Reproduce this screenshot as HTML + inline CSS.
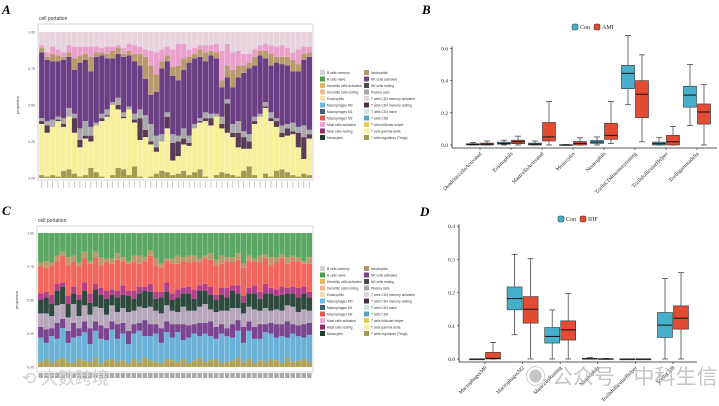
<!DOCTYPE html>
<html><head><meta charset="utf-8"><style>
html,body{margin:0;padding:0;background:#fff;}
svg{display:block;font-family:"Liberation Sans","Noto Sans CJK SC",sans-serif;}
</style></head><body>
<svg id="fig" width="719" height="406" viewBox="0 0 719 406" xmlns="http://www.w3.org/2000/svg">
<text x="2" y="14" font-family="Liberation Serif" font-style="italic" font-weight="bold" font-size="13">A</text>
<text x="422" y="14" font-family="Liberation Serif" font-style="italic" font-weight="bold" font-size="13">B</text>
<text x="2" y="215" font-family="Liberation Serif" font-style="italic" font-weight="bold" font-size="13">C</text>
<text x="420" y="216" font-family="Liberation Serif" font-style="italic" font-weight="bold" font-size="13">D</text>
<g id="gA"></g>
<g id="gC"></g>
<g id="gB"></g>
<g id="gD"></g>
<text x="22" y="384" font-size="17" fill="#cfcfcf">⟲ 大数跨境</text>
<text x="525" y="384" font-size="21" fill="#b8b8b8" opacity="0.8">◉ 公众号 · 中科生信</text>
</svg>
<script>
// ---- Panel A data (bottom to top) ----
const aTreg=[0.02,0.01,0.02,0.01,0.05,0.06,0.03,0.01,0.02,0.07,0.04,0.01,0,0.02,0.07,0.06,0.02,0.08,0.01,0,0.01,0.03,0.05,0.04,0.02,0.03,0.05,0.02,0.04,0.06,0.01,0,0.02,0.04,0.03,0.02,0.01,0.05,0.08,0.02,0,0.03,0.01,0.05,0.06,0.04,0.02,0.01,0.03,0.02];
const aTgd=[0.35,0.3,0.33,0.38,0.3,0.36,0.28,0.2,0.25,0.18,0.32,0.38,0.42,0.48,0.4,0.35,0.45,0.3,0.25,0.28,0.22,0.15,0.2,0.3,0.1,0.12,0.18,0.2,0.3,0.32,0.38,0.36,0.4,0.3,0.28,0.26,0.2,0.15,0.12,0.35,0.42,0.45,0.38,0.3,0.22,0.25,0.28,0.2,0.1,0.25];
const aDark=[0.02,0.05,0,0.01,0.02,0,0.1,0.05,0.02,0.04,0,0.02,0.01,0,0.03,0.01,0,0.02,0.15,0.05,0.02,0.03,0,0.08,0.12,0.1,0.04,0.02,0,0.01,0.02,0.05,0,0.03,0.2,0.03,0.1,0.08,0.05,0.02,0,0.01,0.02,0.04,0.03,0.05,0.02,0.1,0.15,0.03];
const aMisc=[0.02,0.03,0.05,0.02,0.04,0.06,0.03,0.08,0.1,0.06,0.02,0.03,0.04,0.02,0.05,0.03,0.02,0.04,0.06,0.1,0.12,0.08,0.05,0.03,0.06,0.04,0.07,0.05,0.03,0.02,0.04,0.03,0.02,0.05,0.03,0.06,0.08,0.04,0.05,0.03,0.02,0.03,0.04,0.02,0.05,0.03,0.06,0.04,0.08,0.03];
const aPurple=[0.45,0.42,0.4,0.38,0.4,0.35,0.3,0.45,0.42,0.38,0.45,0.4,0.35,0.3,0.3,0.38,0.35,0.36,0.3,0.25,0.2,0.3,0.45,0.35,0.4,0.38,0.4,0.5,0.45,0.42,0.35,0.4,0.38,0.2,0.15,0.25,0.3,0.4,0.45,0.35,0.4,0.3,0.32,0.38,0.42,0.4,0.35,0.38,0.45,0.5];
const aTan=[0.03,0.02,0.05,0.04,0.02,0.03,0.08,0.05,0.04,0.1,0.03,0.02,0.03,0.05,0.04,0.02,0.03,0.05,0.08,0.15,0.2,0.12,0.05,0.04,0.06,0.1,0.08,0.04,0.03,0.05,0.06,0.03,0.04,0.05,0.08,0.12,0.08,0.05,0.04,0.06,0.03,0.05,0.08,0.04,0.05,0.06,0.08,0.05,0.04,0.03];
const aPink=[0.02,0.03,0.05,0.04,0.03,0.05,0.08,0.06,0.05,0.07,0.04,0.03,0.05,0.03,0.02,0.04,0.05,0.06,0.05,0.05,0.1,0.15,0.08,0.06,0.12,0.15,0.1,0.05,0.04,0.03,0.05,0.04,0.06,0.2,0.15,0.12,0.1,0.08,0.06,0.05,0.04,0.05,0.06,0.07,0.08,0.06,0.05,0.1,0.05,0.04];
const aSeries=[aTreg,aTgd,aDark,aMisc,aPurple,aTan,aPink];
// ---- Panel C data (bottom to top) ----
const cOlive=[0.04,0.06,0.03,0.05,0.07,0.04,0.03,0.06,0.05,0.04,0.07,0.03,0.05,0.06,0.04,0.05,0.03,0.06,0.04,0.07,0.05,0.04,0.03,0.06,0.05,0.04,0.06,0.03,0.05,0.07,0.04,0.05,0.06,0.03,0.04,0.05,0.07,0.04,0.06,0.03,0.05,0.04,0.06,0.05,0.03,0.07,0.04,0.05,0.06,0.04];
const cBlue=[0.18,0.12,0.2,0.16,0.22,0.14,0.19,0.17,0.21,0.13,0.2,0.18,0.15,0.22,0.17,0.2,0.14,0.19,0.23,0.16,0.18,0.21,0.15,0.2,0.17,0.22,0.14,0.19,0.2,0.16,0.21,0.18,0.15,0.22,0.19,0.17,0.2,0.14,0.21,0.18,0.16,0.22,0.19,0.17,0.2,0.15,0.21,0.18,0.16,0.2];
const cPurple=[0.08,0.1,0.06,0.12,0.07,0.09,0.11,0.06,0.08,0.12,0.07,0.1,0.09,0.06,0.11,0.08,0.1,0.07,0.06,0.12,0.09,0.07,0.11,0.08,0.1,0.06,0.12,0.09,0.07,0.1,0.08,0.11,0.09,0.07,0.06,0.1,0.08,0.12,0.07,0.09,0.11,0.06,0.08,0.1,0.09,0.12,0.07,0.08,0.1,0.09];
const cLilac=[0.1,0.12,0.09,0.13,0.11,0.1,0.14,0.09,0.12,0.1,0.11,0.13,0.1,0.12,0.09,0.11,0.14,0.1,0.12,0.09,0.13,0.1,0.11,0.12,0.1,0.09,0.13,0.11,0.1,0.12,0.14,0.09,0.11,0.1,0.13,0.12,0.09,0.1,0.11,0.13,0.1,0.12,0.09,0.11,0.1,0.12,0.13,0.1,0.11,0.09];
const cDkGreen=[0.1,0.12,0.09,0.11,0.13,0.1,0.08,0.12,0.11,0.09,0.13,0.1,0.12,0.08,0.11,0.1,0.12,0.09,0.1,0.13,0.11,0.09,0.12,0.1,0.08,0.11,0.1,0.13,0.09,0.12,0.1,0.11,0.09,0.12,0.1,0.13,0.11,0.08,0.1,0.12,0.09,0.11,0.13,0.1,0.12,0.09,0.1,0.11,0.12,0.1];
const cMagenta=[0.05,0.04,0.07,0.05,0.03,0.06,0.05,0.04,0.06,0.07,0.04,0.05,0.06,0.04,0.05,0.07,0.04,0.06,0.05,0.03,0.06,0.05,0.04,0.07,0.05,0.06,0.04,0.05,0.07,0.04,0.05,0.06,0.04,0.05,0.07,0.04,0.06,0.05,0.04,0.06,0.05,0.07,0.04,0.05,0.06,0.04,0.05,0.07,0.05,0.04];
const cCoral=[0.2,0.18,0.22,0.17,0.2,0.23,0.19,0.21,0.18,0.22,0.2,0.17,0.21,0.19,0.23,0.18,0.2,0.22,0.17,0.19,0.21,0.2,0.18,0.16,0.22,0.19,0.2,0.18,0.21,0.17,0.19,0.2,0.22,0.18,0.2,0.17,0.19,0.21,0.2,0.18,0.22,0.19,0.17,0.2,0.21,0.18,0.19,0.2,0.17,0.21];
const cTan=[0.03,0.05,0.02,0.04,0.03,0.06,0.04,0.03,0.05,0.02,0.04,0.06,0.03,0.04,0.05,0.03,0.02,0.04,0.06,0.03,0.04,0.05,0.03,0.02,0.04,0.06,0.03,0.05,0.04,0.03,0.02,0.05,0.04,0.06,0.03,0.04,0.05,0.03,0.04,0.02,0.05,0.03,0.06,0.04,0.03,0.05,0.04,0.03,0.02,0.05];
const cSeries=[cOlive,cBlue,cPurple,cLilac,cDkGreen,cMagenta,cCoral,cTan];
const legendLabels=["B cells memory","B cells naive","Dendritic cells activated","Dendritic cells resting","Eosinophils","Macrophages M0","Macrophages M1","Macrophages M2","Mast cells activated","Mast cells resting","Monocytes","Neutrophils","NK cells activated","NK cells resting","Plasma cells","T cells CD4 memory activated","T cells CD4 memory resting","T cells CD4 naive","T cells CD8","T cells follicular helper","T cells gamma delta","T cells regulatory (Tregs)"];
const legendColors=["#d4d4d4","#4d9e4d","#e8b36a","#f0b896","#f3dfb0","#6cb8e0","#3d6170","#e05a55","#f0a6cf","#8e2f6a","#1f3a30","#b3946c","#7b3f8e","#4a4a4a","#a9a9a9","#e4d4de","#4b2f48","#cfe5e0","#5aa3c0","#e6cc55","#f7ef9a","#a39a52"];
// ---- Panel B data ----
const bCats=["DendriticcellsActivated","Eosinophils","MastcellsActivated","Monocytes","Neutrophils","TcellsCD4memoryresting","TcellsfollicularHelper","Tcellsgammadelta"];
const bConQ1=[0,0.005,0,0,0.01,0.35,0,0.235];
const bConMed=[0.003,0.01,0.005,0,0.018,0.445,0.008,0.31];
const bConQ3=[0.008,0.018,0.012,0.002,0.028,0.495,0.018,0.365];
const bConLo=[0,0,0,0,0,0.25,0,0.12];
const bConHi=[0.015,0.03,0.025,0.003,0.05,0.68,0.045,0.5];
const bAmiQ1=[0,0.008,0.025,0,0.035,0.17,0,0.13];
const bAmiMed=[0.005,0.02,0.05,0.01,0.06,0.315,0.02,0.205];
const bAmiQ3=[0.012,0.03,0.14,0.022,0.135,0.4,0.06,0.255];
const bAmiLo=[0,0,0,0,0.01,0.02,0,0];
const bAmiHi=[0.025,0.055,0.27,0.045,0.27,0.56,0.115,0.375];
const bTicks=[0,0.2,0.4,0.6];
// ---- Panel D data ----
const dCats=["MacrophagesM0","MacrophagesM2","MastcellsResting","Neutrophils","TcellsfollicularHelper","TcellsCD8"];
const dConQ1=[0,0.148,0.048,0,0,0.065];
const dConMed=[0,0.182,0.068,0,0,0.102];
const dConQ3=[0,0.217,0.095,0.002,0,0.14];
const dConLo=[0,0.073,0,0,0,0];
const dConHi=[0,0.315,0.148,0.004,0,0.242];
const dIhfQ1=[0,0.108,0.057,0,0,0.09];
const dIhfMed=[0.002,0.15,0.088,0,0,0.123];
const dIhfQ3=[0.02,0.188,0.115,0.001,0,0.16];
const dIhfLo=[0,0,0,0,0,0];
const dIhfHi=[0.05,0.302,0.197,0.002,0,0.26];
const dTicks=[0,0.1,0.2,0.3,0.4];

const NS="http://www.w3.org/2000/svg";
function mk(parent,tag,attrs,txt){const e=document.createElementNS(NS,tag);for(const k in attrs)e.setAttribute(k,attrs[k]);if(txt!=null)e.textContent=txt;parent.appendChild(e);return e;}

function stacked(g,series,colors,topColor,X0,X1,Ytop,Ybot,frameTop,frameBot,stripType,legY){
  mk(g,'rect',{x:X0-1,y:frameTop,width:X1-X0+2,height:frameBot-frameTop,fill:'#fff',stroke:'#bbb','stroke-width':0.6});
  const t=mk(g,'text',{x:X0,y:frameTop-4,'font-size':5,fill:'#333'},'cell portation');
  
  
  const yv=v=>Ybot-(Ybot-Ytop)*v;
  [0,0.25,0.5,0.75,1].forEach(v=>{
    const l=mk(g,'text',{x:X0-4,y:yv(v)+1.3,'font-size':3.5,'text-anchor':'end',fill:'#555'},v.toFixed(2));
    
    
  });
  const yt=mk(g,'text',{x:0,y:0,'font-size':4,fill:'#444','text-anchor':'middle',transform:`translate(${X0-20},${(Ytop+Ybot)/2}) rotate(-90)`},'proportion');
  
  
  const n=series[0].length,bw=(X1-X0)/n;
  for(let i=0;i<n;i++){
    let acc=0;
    series.forEach((s,k)=>{
      const v=Math.max(0,Math.min(s[i],1-acc));
      const r=mk(g,'rect',{x:X0+i*bw,y:yv(acc+v),width:bw,height:yv(acc)-yv(acc+v),fill:colors[k]});
      
      
      acc+=v;
    });
    const r=mk(g,'rect',{x:X0+i*bw,y:yv(1),width:bw,height:yv(acc)-yv(1),fill:topColor});
    
    
    mk(g,'line',{x1:X0+i*bw,x2:X0+i*bw,y1:yv(1),y2:Ybot,stroke:'#fff','stroke-width':0.35,opacity:0.7});
    if(stripType==='ticks') mk(g,'line',{x1:X0+(i+0.5)*bw,x2:X0+(i+0.5)*bw,y1:frameBot+1,y2:frameBot+8,stroke:'#999','stroke-width':0.5});
    else mk(g,'rect',{x:X0+i*bw+0.5,y:frameBot+1,width:bw-1,height:5,fill:'#aaa'});
  }
  legendLabels.forEach((lab,i)=>{
    const col=i<11?0:1,row=i%11;
    const x=320+col*44,y=legY+row*6.5;
    const s=mk(g,'rect',{x:x,y:y,width:5,height:5,fill:legendColors[i]});
    
    
    const tx=mk(g,'text',{x:x+7,y:y+4,'font-size':3.3,fill:'#333'},lab);
    
    
  });
}
stacked(document.getElementById('gA'),aSeries,["#a39a52","#f7ef9a","#5a3a55","#a9a9a9","#6b3d82","#b89a6c","#e9a0cb"],"#e6d3dc",39,312,32,178,24,180,'ticks',70);
stacked(document.getElementById('gC'),cSeries,["#b0a35a","#6ab3d6","#7b4590","#b5a6ba","#2e4a3e","#b33f8a","#f2665e","#b89a6c"],"#5aa863",38,312,233,367,226,372,'boxes',266);

function boxplot(g,cats,con,ami,names,X0,Xend,Y0,perUnit,ticks,xStart,step,bw,legX,legY){
  const y=v=>Y0-v*perUnit;
  mk(g,'line',{x1:X0,x2:X0,y1:y(ticks[ticks.length-1])-2,y2:Y0+3,stroke:'#222','stroke-width':0.8});
  mk(g,'line',{x1:X0,x2:Xend,y1:Y0+3,y2:Y0+3,stroke:'#222','stroke-width':0.8});
  ticks.forEach(v=>{
    mk(g,'line',{x1:X0-2,x2:X0,y1:y(v),y2:y(v),stroke:'#222','stroke-width':0.6});
    const l=mk(g,'text',{x:X0-4,y:y(v)+2,'font-size':5.5,'text-anchor':'end',fill:'#222','font-family':'Liberation Serif'},v.toFixed(1));
    
    
  });
  const cols=["#46b0cc","#e24c33"];
  cats.forEach((c,i)=>{
    const cx=xStart+i*step;
    mk(g,'line',{x1:cx,x2:cx,y1:Y0+3,y2:Y0+5,stroke:'#222','stroke-width':0.6});
    const l=mk(g,'text',{x:0,y:0,'font-size':5.5,'text-anchor':'end',fill:'#222','font-family':'Liberation Serif',transform:`translate(${cx+2},${Y0+9}) rotate(-45)`},c);
    
    
    [con,ami].forEach((d,k)=>{
      const bx=cx+(k===0?-bw-0.5:0.5);
      const m=bx+bw/2;
      const w=mk(g,'line',{x1:m,x2:m,y1:y(d[4][i]),y2:y(d[3][i]),stroke:'#333','stroke-width':0.7});
      
      
      mk(g,'line',{x1:m-3,x2:m+3,y1:y(d[4][i]),y2:y(d[4][i]),stroke:'#333','stroke-width':0.7});
      mk(g,'line',{x1:m-3,x2:m+3,y1:y(d[3][i]),y2:y(d[3][i]),stroke:'#333','stroke-width':0.7});
      const b=mk(g,'rect',{x:bx,y:y(d[2][i]),width:bw,height:Math.max(0.8,y(d[0][i])-y(d[2][i])),fill:cols[k],stroke:'#333','stroke-width':0.6});
      
      
      mk(g,'line',{x1:bx,x2:bx+bw,y1:y(d[1][i]),y2:y(d[1][i]),stroke:'#111','stroke-width':1});
    });
  });
  names.forEach((nm,k)=>{
    const x=legX+k*22;
    const s=mk(g,'rect',{x:x,y:legY-3,width:6,height:6,rx:1.5,fill:cols[k],stroke:'#333','stroke-width':0.5});
    
    
    const t=mk(g,'text',{x:x+8,y:legY+2,'font-size':6,fill:'#222','font-family':'Liberation Serif'},nm);
    
    
  });
}
boxplot(document.getElementById('gB'),bCats,[bConQ1,bConMed,bConQ3,bConLo,bConHi],[bAmiQ1,bAmiMed,bAmiQ3,bAmiLo,bAmiHi],["Con","AMI"],452,717,145,161,bTicks,480,31,13,572,27);
boxplot(document.getElementById('gD'),dCats,[dConQ1,dConMed,dConQ3,dConLo,dConHi],[dIhfQ1,dIhfMed,dIhfQ3,dIhfLo,dIhfHi],["Con","IHF"],459,697,359,332,dTicks,485,37.6,15,558,219);
</script>
</body></html>
